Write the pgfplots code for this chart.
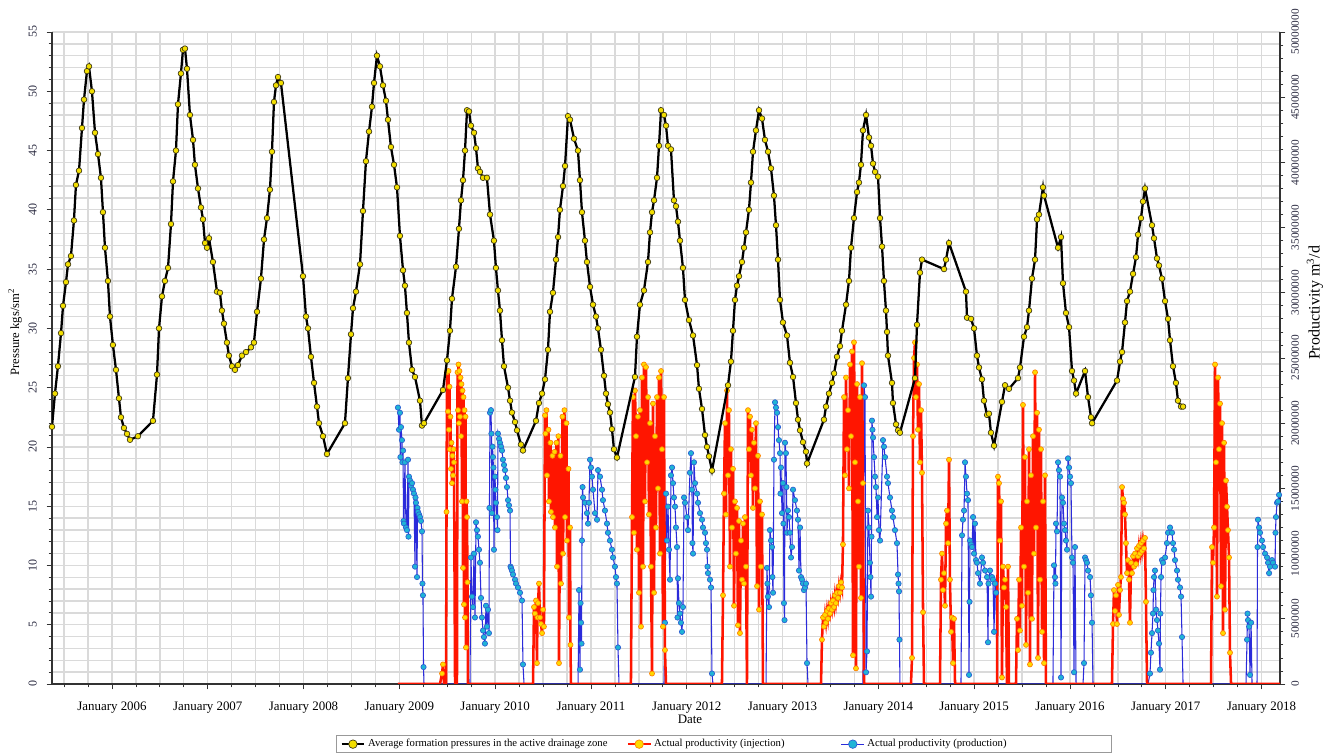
\documentclass[border=0pt]{standalone}
\usepackage{fontspec}
\setmainfont{Liberation Serif}
\usepackage{pgfplots}
\usepackage{pgfplotstable}
\pgfplotsset{compat=1.18}

\definecolor{gridgray}{HTML}{DADADA}
\definecolor{axisgray}{HTML}{333333}
\definecolor{tickblue}{HTML}{2A2A40}
\definecolor{presfill}{HTML}{F2DE00}
\definecolor{presedge}{HTML}{3A3410}
\definecolor{injline}{HTML}{FF1500}
\definecolor{injfill}{HTML}{FFDA00}
\definecolor{injedge}{HTML}{FF8000}
\definecolor{prodline}{HTML}{2B2BDA}
\definecolor{prodfill}{HTML}{1FB4D6}
\definecolor{prodedge}{HTML}{2C5ED2}

% Average formation pressure, kgs/sm2
\pgfplotstableread{
year pressure
2005.374 21.7
2005.405 24.5
2005.436 26.8
2005.468 29.6
2005.489 31.9
2005.520 33.9
2005.541 35.4
2005.572 36.1
2005.603 39.1
2005.624 42.1
2005.656 43.3
2005.687 46.9
2005.708 49.3
2005.739 51.7
2005.760 52.1
2005.791 50.0
2005.823 46.5
2005.854 44.7
2005.885 42.7
2005.906 39.8
2005.927 36.8
2005.958 34.0
2005.979 31.0
2006.010 28.6
2006.042 26.5
2006.073 24.1
2006.094 22.5
2006.125 21.6
2006.157 21.1
2006.188 20.6
2006.271 20.9
2006.428 22.2
2006.470 26.1
2006.491 30.0
2006.522 32.7
2006.553 34.0
2006.585 35.1
2006.616 38.8
2006.637 42.4
2006.668 45.0
2006.689 48.9
2006.720 51.5
2006.741 53.5
2006.762 53.6
2006.783 51.9
2006.814 48.0
2006.846 45.9
2006.866 43.8
2006.898 41.8
2006.929 40.2
2006.950 39.2
2006.971 37.2
2006.992 36.8
2007.013 37.6
2007.054 35.6
2007.096 33.1
2007.127 33.0
2007.148 31.5
2007.169 30.4
2007.200 28.8
2007.221 27.7
2007.253 26.8
2007.284 26.5
2007.315 26.9
2007.357 27.7
2007.399 28.0
2007.451 28.4
2007.482 28.8
2007.514 31.4
2007.555 34.2
2007.587 37.5
2007.618 39.3
2007.649 41.7
2007.670 44.9
2007.691 49.1
2007.712 50.5
2007.733 51.2
2007.764 50.7
2007.994 34.4
2008.025 31.0
2008.046 30.0
2008.077 27.6
2008.109 25.4
2008.140 23.4
2008.161 22.0
2008.203 20.9
2008.244 19.4
2008.432 22.0
2008.463 25.8
2008.495 29.5
2008.516 31.7
2008.547 33.1
2008.589 35.4
2008.620 39.9
2008.651 44.1
2008.683 46.6
2008.714 48.7
2008.735 50.7
2008.766 53.0
2008.797 52.1
2008.829 50.5
2008.860 49.2
2008.881 47.6
2008.912 45.3
2008.944 43.8
2008.975 41.9
2009.006 37.8
2009.038 34.9
2009.058 33.6
2009.079 31.3
2009.100 28.8
2009.132 26.5
2009.163 25.9
2009.215 23.9
2009.236 21.8
2009.257 22.0
2009.455 24.8
2009.497 27.3
2009.528 29.8
2009.549 32.5
2009.591 35.2
2009.622 38.4
2009.643 40.8
2009.664 42.5
2009.685 45.0
2009.706 48.4
2009.727 48.3
2009.747 47.1
2009.779 46.5
2009.800 45.2
2009.820 43.5
2009.841 43.2
2009.873 42.7
2009.914 42.7
2009.946 39.6
2009.987 37.4
2010.008 35.1
2010.029 33.2
2010.050 31.5
2010.071 29.0
2010.092 26.8
2010.134 25.0
2010.155 23.9
2010.175 22.9
2010.207 22.1
2010.228 21.4
2010.269 20.2
2010.290 19.7
2010.426 22.2
2010.457 23.7
2010.489 24.5
2010.520 25.7
2010.551 28.2
2010.572 31.4
2010.603 33.0
2010.635 35.8
2010.656 37.7
2010.676 40.0
2010.708 42.0
2010.729 43.7
2010.760 47.9
2010.781 47.6
2010.823 46.0
2010.864 45.0
2010.885 42.5
2010.906 39.8
2010.937 37.4
2010.958 35.6
2010.990 33.5
2011.021 32.0
2011.052 31.0
2011.073 30.0
2011.104 28.2
2011.136 26.0
2011.157 24.5
2011.177 23.6
2011.198 22.9
2011.219 21.5
2011.240 19.8
2011.271 19.1
2011.459 25.9
2011.480 29.3
2011.511 32.0
2011.553 33.2
2011.595 35.6
2011.616 38.1
2011.637 39.8
2011.658 40.8
2011.689 42.7
2011.710 45.4
2011.731 48.4
2011.762 48.0
2011.783 47.1
2011.804 45.4
2011.835 45.1
2011.866 40.8
2011.887 40.3
2011.908 39.0
2011.929 37.4
2011.960 35.1
2011.981 32.4
2012.023 30.7
2012.065 29.4
2012.107 26.9
2012.127 24.9
2012.159 23.2
2012.190 21.0
2012.211 20.0
2012.232 19.2
2012.263 18.0
2012.430 25.2
2012.461 27.2
2012.482 29.8
2012.503 32.4
2012.524 33.6
2012.545 34.4
2012.576 35.6
2012.597 36.8
2012.618 38.1
2012.649 40.0
2012.670 42.3
2012.691 44.9
2012.722 46.7
2012.754 48.4
2012.785 47.7
2012.816 45.9
2012.848 44.9
2012.879 43.5
2012.910 41.2
2012.931 38.7
2012.952 35.8
2012.973 32.4
2013.004 30.5
2013.046 29.4
2013.077 27.1
2013.109 25.9
2013.140 23.7
2013.161 22.3
2013.182 21.4
2013.213 20.4
2013.244 19.6
2013.255 18.6
2013.432 22.3
2013.453 23.4
2013.484 24.5
2013.516 25.4
2013.537 26.2
2013.568 27.6
2013.599 28.5
2013.620 29.8
2013.662 32.0
2013.693 34.0
2013.714 36.8
2013.745 39.3
2013.777 41.5
2013.797 42.3
2013.818 43.8
2013.839 46.7
2013.871 48.0
2013.902 46.1
2013.923 45.4
2013.944 43.9
2013.965 43.2
2013.996 42.8
2014.017 39.3
2014.038 36.9
2014.058 34.0
2014.079 31.5
2014.090 29.7
2014.100 27.7
2014.142 25.4
2014.152 23.7
2014.184 21.9
2014.205 21.4
2014.225 21.2
2014.382 25.8
2014.403 30.3
2014.434 34.7
2014.455 35.8
2014.685 35.0
2014.706 35.8
2014.737 37.2
2014.914 33.1
2014.925 30.9
2014.967 30.8
2014.998 30.0
2015.029 27.7
2015.050 26.7
2015.081 25.7
2015.102 23.9
2015.134 22.7
2015.154 22.8
2015.175 21.2
2015.207 20.1
2015.290 23.8
2015.322 25.2
2015.363 24.9
2015.457 25.8
2015.478 26.7
2015.520 29.3
2015.551 30.1
2015.572 31.5
2015.603 34.2
2015.635 35.8
2015.656 39.2
2015.676 39.6
2015.718 41.9
2015.729 41.2
2015.875 36.8
2015.906 37.7
2015.927 33.8
2015.958 31.3
2015.990 30.1
2016.021 26.4
2016.042 25.6
2016.063 24.5
2016.157 26.4
2016.188 24.2
2016.219 22.5
2016.230 22.0
2016.491 25.6
2016.522 27.2
2016.543 28.0
2016.574 30.5
2016.595 32.3
2016.626 33.1
2016.658 34.6
2016.689 36.0
2016.710 37.9
2016.741 39.3
2016.762 40.7
2016.783 41.8
2016.856 38.7
2016.877 37.6
2016.908 35.9
2016.929 35.3
2016.960 34.2
2016.992 32.3
2017.023 30.8
2017.044 29.0
2017.075 26.8
2017.106 25.4
2017.127 23.9
2017.159 23.4
2017.180 23.4
}\pressuredata

% Actual productivity (injection), m3/d
\pgfplotstableread{
year rate
2008.985 0
2009.424 0
2009.445 800000
2009.455 1500000
2009.466 0
2009.487 0
2009.492 13200000
2009.497 23900000
2009.508 20900000
2009.513 24000000
2009.518 19500000
2009.523 22800000
2009.528 18000000
2009.533 20500000
2009.539 16500000
2009.544 18500000
2009.549 15400000
2009.554 17500000
2009.560 16000000
2009.565 18000000
2009.570 17000000
2009.581 0
2009.601 0
2009.607 23900000
2009.612 21000000
2009.617 24500000
2009.622 20000000
2009.627 24000000
2009.633 20500000
2009.638 23500000
2009.643 19000000
2009.648 23000000
2009.653 14000000
2009.659 22500000
2009.664 8900000
2009.669 22000000
2009.674 6100000
2009.680 21000000
2009.685 5100000
2009.690 20500000
2009.695 2800000
2009.701 14000000
2009.706 12800000
2009.711 7800000
2009.716 0
2010.395 0
2010.405 5900000
2010.415 5400000
2010.426 6400000
2010.436 1600000
2010.441 5100000
2010.447 6200000
2010.457 7700000
2010.468 5100000
2010.478 4600000
2010.489 3900000
2010.499 5700000
2010.509 4400000
2010.520 20600000
2010.525 19200000
2010.535 21000000
2010.541 16000000
2010.556 19500000
2010.561 14000000
2010.577 18500000
2010.582 13200000
2010.598 17500000
2010.603 12800000
2010.619 17800000
2010.624 12000000
2010.640 18500000
2010.645 9000000
2010.660 19000000
2010.666 1600000
2010.681 17500000
2010.687 7700000
2010.702 20500000
2010.708 10000000
2010.723 21000000
2010.729 12800000
2010.744 20000000
2010.749 11000000
2010.765 16500000
2010.770 5100000
2010.781 12000000
2010.786 3000000
2010.791 0
2011.417 0
2011.428 12800000
2011.438 22000000
2011.449 11600000
2011.459 22500000
2011.470 19000000
2011.480 10300000
2011.490 20500000
2011.501 7000000
2011.511 21000000
2011.522 4400000
2011.532 23500000
2011.543 9000000
2011.553 24500000
2011.564 14000000
2011.574 24300000
2011.585 17000000
2011.595 22000000
2011.605 13000000
2011.616 20000000
2011.626 9000000
2011.637 800000
2011.647 21500000
2011.658 7000000
2011.668 19000000
2011.678 12000000
2011.689 22000000
2011.699 15000000
2011.710 23500000
2011.720 10000000
2011.731 24000000
2011.741 18000000
2011.751 4400000
2011.762 22000000
2011.772 2600000
2011.783 0
2012.367 0
2012.378 6800000
2012.388 14600000
2012.399 20000000
2012.409 13000000
2012.420 22500000
2012.430 16000000
2012.440 21000000
2012.451 9000000
2012.461 18000000
2012.472 12000000
2012.482 16500000
2012.493 6000000
2012.503 14000000
2012.513 10000000
2012.524 13500000
2012.534 4500000
2012.545 12500000
2012.555 3900000
2012.566 11000000
2012.576 8000000
2012.587 12300000
2012.597 7700000
2012.607 12800000
2012.618 9000000
2012.628 0
2012.639 21000000
2012.649 18000000
2012.660 20500000
2012.670 16000000
2012.680 19500000
2012.691 13500000
2012.701 18500000
2012.712 15000000
2012.722 20000000
2012.733 7500000
2012.743 17500000
2012.754 5700000
2012.764 14000000
2012.774 9000000
2012.785 13000000
2012.795 0
2013.401 0
2013.411 3400000
2013.422 5100000
2013.432 4400000
2013.443 5300000
2013.453 4700000
2013.464 5600000
2013.474 5000000
2013.484 5800000
2013.495 5400000
2013.505 6200000
2013.516 5700000
2013.526 6400000
2013.537 5900000
2013.547 6800000
2013.557 6200000
2013.568 7000000
2013.578 6600000
2013.589 7500000
2013.599 7000000
2013.610 7800000
2013.620 7400000
2013.630 10700000
2013.641 22000000
2013.651 16000000
2013.662 23500000
2013.672 18000000
2013.683 21000000
2013.693 15000000
2013.704 24500000
2013.714 19000000
2013.724 25500000
2013.735 2200000
2013.745 26200000
2013.756 17000000
2013.766 1200000
2013.777 23000000
2013.787 14000000
2013.797 9000000
2013.808 22000000
2013.818 6600000
2013.829 24600000
2013.839 15400000
2013.850 0
2014.340 0
2014.351 2000000
2014.361 19000000
2014.372 25000000
2014.382 26200000
2014.392 22000000
2014.403 24500000
2014.413 19500000
2014.424 23000000
2014.434 17000000
2014.445 21000000
2014.455 16200000
2014.466 5500000
2014.476 0
2014.643 0
2014.653 8000000
2014.664 10000000
2014.674 7200000
2014.685 8500000
2014.695 6000000
2014.706 12300000
2014.716 13300000
2014.727 10800000
2014.737 17200000
2014.747 8000000
2014.758 4000000
2014.768 5100000
2014.779 1600000
2014.789 5000000
2014.800 0
2015.238 0
2015.248 15900000
2015.259 15400000
2015.269 11000000
2015.280 14000000
2015.290 500000
2015.301 9000000
2015.311 7400000
2015.322 8000000
2015.332 5900000
2015.342 0
2015.353 9000000
2015.363 0
2015.436 0
2015.447 5000000
2015.457 2600000
2015.468 8000000
2015.478 4100000
2015.489 12000000
2015.499 6000000
2015.509 21400000
2015.520 9000000
2015.530 17400000
2015.541 3000000
2015.551 14000000
2015.562 7000000
2015.572 18000000
2015.582 1500000
2015.593 16000000
2015.603 5000000
2015.614 19000000
2015.624 10000000
2015.635 23900000
2015.645 12000000
2015.656 20800000
2015.666 2000000
2015.676 19500000
2015.687 8000000
2015.697 18000000
2015.708 4000000
2015.718 14000000
2015.729 1600000
2015.739 16000000
2015.749 0
2016.438 0
2016.449 4600000
2016.459 7200000
2016.470 5600000
2016.480 6800000
2016.490 4600000
2016.501 7600000
2016.511 5300000
2016.522 7200000
2016.532 8200000
2016.543 15100000
2016.553 14200000
2016.564 13900000
2016.574 13000000
2016.584 10800000
2016.595 8500000
2016.605 9500000
2016.616 8000000
2016.626 4700000
2016.637 9300000
2016.647 8500000
2016.658 9800000
2016.668 9000000
2016.678 10000000
2016.689 9200000
2016.699 10400000
2016.710 9800000
2016.720 10600000
2016.731 10000000
2016.741 10800000
2016.751 10200000
2016.762 11000000
2016.772 10400000
2016.783 11200000
2016.793 6300000
2016.804 0
2017.472 0
2017.482 10500000
2017.493 9300000
2017.503 12000000
2017.514 24500000
2017.524 17000000
2017.534 6700000
2017.545 23500000
2017.555 18000000
2017.566 21500000
2017.576 7500000
2017.587 20000000
2017.597 3900000
2017.608 18500000
2017.618 5700000
2017.628 15600000
2017.639 13600000
2017.649 11800000
2017.660 9700000
2017.670 2400000
2017.681 0
2018.192 0
}\injectiondata

% Actual productivity (production), m3/d
\pgfplotstableread{
year rate
2008.985 21200000
2008.996 19500000
2009.006 20800000
2009.011 17400000
2009.017 19700000
2009.027 18700000
2009.032 17000000
2009.038 17900000
2009.043 12500000
2009.048 12300000
2009.058 17000000
2009.069 12000000
2009.079 11800000
2009.090 17200000
2009.095 11300000
2009.100 15900000
2009.111 15600000
2009.121 15200000
2009.132 15400000
2009.142 14900000
2009.152 14600000
2009.163 9000000
2009.168 14300000
2009.173 13900000
2009.184 8200000
2009.189 13500000
2009.194 13200000
2009.205 13000000
2009.215 12800000
2009.225 12500000
2009.236 11700000
2009.241 7700000
2009.246 6800000
2009.252 1300000
2009.257 0
2009.737 0
2009.747 9700000
2009.758 6700000
2009.768 5900000
2009.779 10000000
2009.789 5100000
2009.800 12400000
2009.810 11800000
2009.820 11300000
2009.831 10300000
2009.841 9300000
2009.852 6600000
2009.862 5100000
2009.873 4100000
2009.883 3600000
2009.893 3100000
2009.904 6000000
2009.914 4400000
2009.925 5700000
2009.935 3900000
2009.940 13500000
2009.946 20800000
2009.956 21000000
2009.961 19200000
2009.966 13100000
2009.972 18200000
2009.977 17400000
2009.982 16600000
2009.987 10300000
2009.998 15900000
2010.003 14900000
2010.008 13900000
2010.019 12800000
2010.024 11800000
2010.029 19200000
2010.040 18800000
2010.050 18500000
2010.061 18200000
2010.071 17900000
2010.081 17200000
2010.092 16800000
2010.102 16400000
2010.113 15800000
2010.123 15100000
2010.134 14100000
2010.144 13700000
2010.155 13300000
2010.160 9000000
2010.165 8900000
2010.175 8700000
2010.186 8400000
2010.207 8000000
2010.217 7700000
2010.238 7400000
2010.259 7000000
2010.280 6400000
2010.290 1500000
2010.301 0
2010.865 0
2010.875 7200000
2010.885 1100000
2010.891 6200000
2010.896 4700000
2010.901 3100000
2010.906 11000000
2010.912 15100000
2010.917 14300000
2010.937 13900000
2010.958 13100000
2010.969 12300000
2010.979 13900000
2010.990 17200000
2011.000 16600000
2011.010 15900000
2011.021 14900000
2011.042 13100000
2011.063 12600000
2011.073 16400000
2011.094 15900000
2011.115 14900000
2011.125 14100000
2011.146 13300000
2011.167 12300000
2011.177 11600000
2011.198 11000000
2011.219 10300000
2011.230 9700000
2011.250 9000000
2011.261 8200000
2011.271 7700000
2011.282 2800000
2011.292 0
2011.762 0
2011.772 4700000
2011.783 14600000
2011.793 11000000
2011.804 13600000
2011.814 10300000
2011.825 8000000
2011.835 16000000
2011.846 16600000
2011.856 15400000
2011.866 14300000
2011.877 13600000
2011.887 12000000
2011.898 10500000
2011.903 5100000
2011.908 8100000
2011.918 6200000
2011.929 5400000
2011.939 4700000
2011.950 4000000
2011.960 5900000
2011.971 14300000
2011.981 13900000
2012.002 12800000
2012.013 11800000
2012.033 16200000
2012.044 17700000
2012.054 14900000
2012.059 10800000
2012.065 10000000
2012.075 17000000
2012.086 15400000
2012.107 14600000
2012.117 13900000
2012.138 13100000
2012.159 12600000
2012.169 12000000
2012.190 11600000
2012.200 10800000
2012.211 10300000
2012.216 9000000
2012.221 8500000
2012.242 8000000
2012.253 7400000
2012.263 800000
2012.273 0
2012.827 0
2012.837 8900000
2012.842 7700000
2012.847 6700000
2012.858 5900000
2012.868 11800000
2012.879 11000000
2012.889 10500000
2012.894 8200000
2012.900 7000000
2012.910 17200000
2012.921 21600000
2012.931 21200000
2012.942 20800000
2012.952 19700000
2012.962 18700000
2012.973 17700000
2012.978 14600000
2012.983 16600000
2012.994 13100000
2013.004 15400000
2013.009 12300000
2013.014 6200000
2013.020 4900000
2013.025 18500000
2013.035 17700000
2013.040 15100000
2013.046 11600000
2013.056 13300000
2013.067 12800000
2013.077 11600000
2013.088 9700000
2013.098 10500000
2013.109 14900000
2013.129 14100000
2013.150 13300000
2013.161 12600000
2013.171 8700000
2013.182 12000000
2013.192 8200000
2013.203 8000000
2013.213 7700000
2013.223 7200000
2013.234 7400000
2013.244 7700000
2013.255 1600000
2013.265 0
2013.839 0
2013.850 22900000
2013.860 22000000
2013.871 900000
2013.881 2500000
2013.891 13300000
2013.902 12000000
2013.912 9300000
2013.917 8200000
2013.923 6700000
2013.928 11300000
2013.933 20200000
2013.938 19500000
2013.944 18900000
2013.954 17400000
2013.965 15900000
2013.975 15100000
2013.986 12800000
2013.996 14300000
2014.006 11800000
2014.017 11000000
2014.048 18700000
2014.058 18200000
2014.069 17400000
2014.090 15900000
2014.100 15400000
2014.121 14300000
2014.142 13300000
2014.152 12800000
2014.173 11800000
2014.194 10800000
2014.205 8400000
2014.210 7700000
2014.215 7100000
2014.220 3400000
2014.225 0
2014.862 0
2014.873 11400000
2014.883 12600000
2014.894 13300000
2014.904 17000000
2014.914 15900000
2014.925 14600000
2014.935 14100000
2014.946 700000
2014.951 6300000
2014.956 11000000
2014.967 10700000
2014.977 10500000
2014.988 12800000
2014.998 10000000
2015.008 12300000
2015.019 9500000
2015.029 9300000
2015.040 8500000
2015.060 7700000
2015.081 9700000
2015.092 9300000
2015.113 8700000
2015.134 8200000
2015.144 3200000
2015.149 7700000
2015.165 8700000
2015.186 8200000
2015.196 8000000
2015.207 4000000
2015.217 7700000
2015.228 7000000
2015.238 0
2015.822 0
2015.833 9100000
2015.843 8200000
2015.848 7700000
2015.854 12300000
2015.864 11700000
2015.875 17000000
2015.885 16400000
2015.896 15900000
2015.906 500000
2015.916 14300000
2015.927 13900000
2015.937 12300000
2015.948 11800000
2015.958 11000000
2015.969 10300000
2015.979 17300000
2015.990 16600000
2016.000 15900000
2016.010 15400000
2016.021 9700000
2016.031 9300000
2016.042 900000
2016.052 10500000
2016.063 0
2016.136 0
2016.146 1600000
2016.157 9700000
2016.167 9500000
2016.177 9300000
2016.188 8700000
2016.209 8200000
2016.219 6800000
2016.230 4700000
2016.240 0
2016.814 0
2016.835 800000
2016.845 2400000
2016.856 3900000
2016.866 5400000
2016.871 7200000
2016.877 8200000
2016.887 8700000
2016.898 5700000
2016.908 4900000
2016.918 4100000
2016.929 3100000
2016.939 1100000
2016.944 5400000
2016.950 8200000
2016.960 9500000
2016.971 9300000
2016.992 9700000
2017.012 10800000
2017.023 11600000
2017.044 12000000
2017.065 11600000
2017.075 10800000
2017.086 10300000
2017.096 9500000
2017.117 8700000
2017.127 8000000
2017.148 7400000
2017.159 6700000
2017.169 3600000
2017.180 0
2017.837 0
2017.848 3400000
2017.853 5400000
2017.858 4900000
2017.869 4400000
2017.879 700000
2017.890 4700000
2017.900 0
2017.952 0
2017.957 10500000
2017.962 12600000
2017.973 12000000
2017.983 11600000
2018.004 11000000
2018.015 10500000
2018.036 10000000
2018.057 9700000
2018.067 9300000
2018.078 8500000
2018.088 9000000
2018.109 9500000
2018.119 9300000
2018.140 9000000
2018.145 11600000
2018.150 12800000
2018.161 13900000
2018.171 14000000
2018.182 14500000
}\productiondata

\pgfplotsset{
  geom/.style={
    at={(39pt,53.25pt)}, anchor=south west,
    scale only axis, width=921pt, height=489pt,
    xmin=2005.374, xmax=2018.192,
    /pgf/number format/assume math mode=true,
  },
  ticks common/.style={
    tick align=outside,
    major tick length=4pt, minor tick length=2.5pt,
    tick style={axisgray, line width=0.6pt},
    axis line style={axisgray, line width=0.8pt},
  },
}

\begin{document}
\begin{tikzpicture}
\useasboundingbox (0pt,0pt) rectangle (1002pt,566.25pt);

% grid, date axis and pressure scale
\begin{axis}[geom, ticks common,
  ymin=0, ymax=55,
  axis x line*=bottom, axis y line*=left,
  xtick={2006,2007,...,2018},
  xticklabels={January 2006,January 2007,January 2008,January 2009,January 2010,January 2011,January 2012,January 2013,January 2014,January 2015,January 2016,January 2017,January 2018},
  minor xtick={2005.5,2005.75,...,2018.0},
  ytick={0,5,...,55},
  minor ytick={0,1,...,55},
  grid=both,
  major grid style={gridgray, line width=1pt},
  minor grid style={gridgray, line width=1pt},
  xticklabel style={font=\fontsize{9.7}{10}\selectfont, text=black, yshift=-6pt},
  % labels are turned a quarter, so a positive y shift moves them leftwards
  yticklabel style={rotate=90, anchor=south, font=\fontsize{9}{10}\selectfont, text=tickblue, yshift=4pt},
]
\addplot[draw=none, forget plot] coordinates {(2006,0)};
\end{axis}

% productivity scale and series
\begin{axis}[geom, ticks common,
  ymin=0, ymax=50000000,
  hide x axis,
  axis y line*=right,
  ytick={0,5000000,10000000,15000000,20000000,25000000,30000000,35000000,40000000,45000000,50000000},
  minor y tick num=4,
  scaled y ticks=false,
  yticklabel style={rotate=90, anchor=north, font=\fontsize{8.5}{9}\selectfont, text=tickblue, yshift=-1pt,
    /pgf/number format/fixed, /pgf/number format/1000 sep={}},
]
\addplot[prodline, line width=0.8pt, no markers] table[x=year,y=rate]{\productiondata};
\addplot[only marks, mark=*, mark size=2pt, mark options={fill=prodfill, draw=prodedge, line width=0.5pt},
  restrict y to domain=100000:90000000] table[x=year,y=rate]{\productiondata};
\addplot[injline, line width=1.9pt, no markers] table[x=year,y=rate]{\injectiondata};
\addplot[only marks, mark=*, mark size=1.9pt, mark options={fill=injfill, draw=injedge, line width=0.5pt},
  restrict y to domain=100000:90000000] table[x=year,y=rate]{\injectiondata};
\end{axis}

% pressure series and legend
\begin{axis}[geom, ymin=0, ymax=55, hide axis,
  legend columns=3,
  legend cell align=left,
  legend image post style={mark size=3.2pt},
  legend style={at={(0.2313,-0.0782)}, anchor=north west, draw=gray!80, line width=0.6pt,
    fill=white, font=\fontsize{8}{9}\selectfont, inner xsep=3pt, inner ysep=1pt},
]
\addplot[black, line width=1.7pt, mark=*, mark size=2.1pt,
  mark options={fill=presfill, draw=presedge, line width=0.5pt}] table[x=year,y=pressure]{\pressuredata};
\addlegendentry{\makebox[192pt][l]{Average formation pressures in the active drainage zone}}
\addlegendimage{injline, line width=1.5pt, mark=*, mark options={fill=injfill, draw=injedge, line width=0.5pt}}
\addlegendentry{\makebox[138pt][l]{Actual productivity (injection)}}
\addlegendimage{prodline, line width=0.8pt, mark=*, mark options={fill=prodfill, draw=prodedge, line width=0.5pt}}
\addlegendentry{\makebox[178pt][l]{Actual productivity (production)}}
\end{axis}

\node[font=\fontsize{9.7}{10}\selectfont] at (517.5pt,27pt) {Date};
\node[rotate=90, font=\fontsize{9.5}{10}\selectfont] at (11.25pt,317.25pt) {Pressure kgs/sm\textsuperscript{2}};
\node[rotate=90, font=\fontsize{12}{13}\selectfont] at (986.25pt,339pt) {Productivity m\textsuperscript{3}/d};
\end{tikzpicture}
\end{document}
